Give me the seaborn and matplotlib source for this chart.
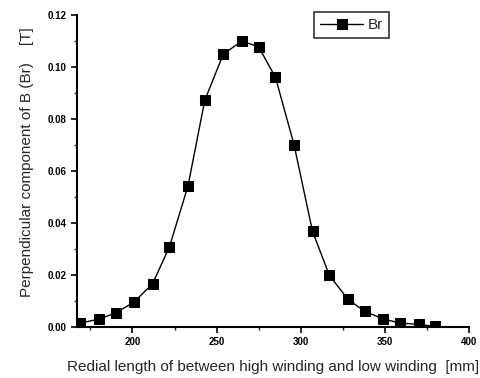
import pandas as pd
import matplotlib.pyplot as plt
import seaborn as sns
from matplotlib.ticker import MultipleLocator

# radial position (mm) and radial flux density Br (T)
radial_mm = [169, 180, 190, 201, 212, 222, 233, 243, 254, 265, 275,
             285, 296, 307, 317, 328, 338, 349, 359, 370, 380]
br_tesla = [0.0015, 0.0030, 0.0054, 0.0096, 0.0167, 0.0309, 0.0543,
            0.0873, 0.1050, 0.1100, 0.1078, 0.0960, 0.0702, 0.0368,
            0.0199, 0.0107, 0.0060, 0.0031, 0.0015, 0.0010, 0.0002]

df = pd.DataFrame({'x': radial_mm, 'Br': br_tesla})

sns.set_style('ticks')
plt.rcParams['font.family'] = ['Liberation Sans', 'DejaVu Sans']

fig = plt.figure(figsize=(4.81, 3.78), dpi=100)
ax = fig.add_axes([0.160, 0.135, 0.815, 0.825])

sns.lineplot(data=df, x='x', y='Br', ax=ax, color='black', linewidth=1,
             marker='s', markersize=6.5, markeredgecolor='black', label='Br')

ax.set_xlim(167, 400)
ax.set_ylim(0, 0.12)
ax.xaxis.set_major_locator(MultipleLocator(50))
ax.xaxis.set_minor_locator(MultipleLocator(25))
ax.yaxis.set_major_locator(MultipleLocator(0.02))
ax.yaxis.set_minor_locator(MultipleLocator(0.01))
ax.yaxis.set_major_formatter(plt.FuncFormatter(lambda v, p: f'{v:.2f}'))

for side in ['top', 'right']:
    ax.spines[side].set_visible(False)
for side in ['left', 'bottom']:
    ax.spines[side].set_linewidth(1.5)
    ax.spines[side].set_color('black')

ax.tick_params(which='major', direction='out', length=4, width=1.2,
               labelsize=7, colors='black')
ax.tick_params(which='minor', direction='out', length=2.5, width=1)
for lbl in ax.get_xticklabels() + ax.get_yticklabels():
    lbl.set_fontweight('bold')

ax.set_xlabel('Redial length of between high winding and low winding  [mm]',
              fontsize=11, labelpad=9)
ax.set_ylabel('Perpendicular component of B (Br)    [T]', fontsize=11)
ax.yaxis.set_label_coords(-0.11, 0.53)

leg = ax.legend(loc='upper left', bbox_to_anchor=(0.605, 1.01), fontsize=11,
                frameon=True, fancybox=False, handlelength=2.8,
                borderpad=0.4, handletextpad=0.3, borderaxespad=0)
leg.get_frame().set_edgecolor('black')
leg.get_frame().set_linewidth(1.2)

plt.savefig('out.png', dpi=100)
